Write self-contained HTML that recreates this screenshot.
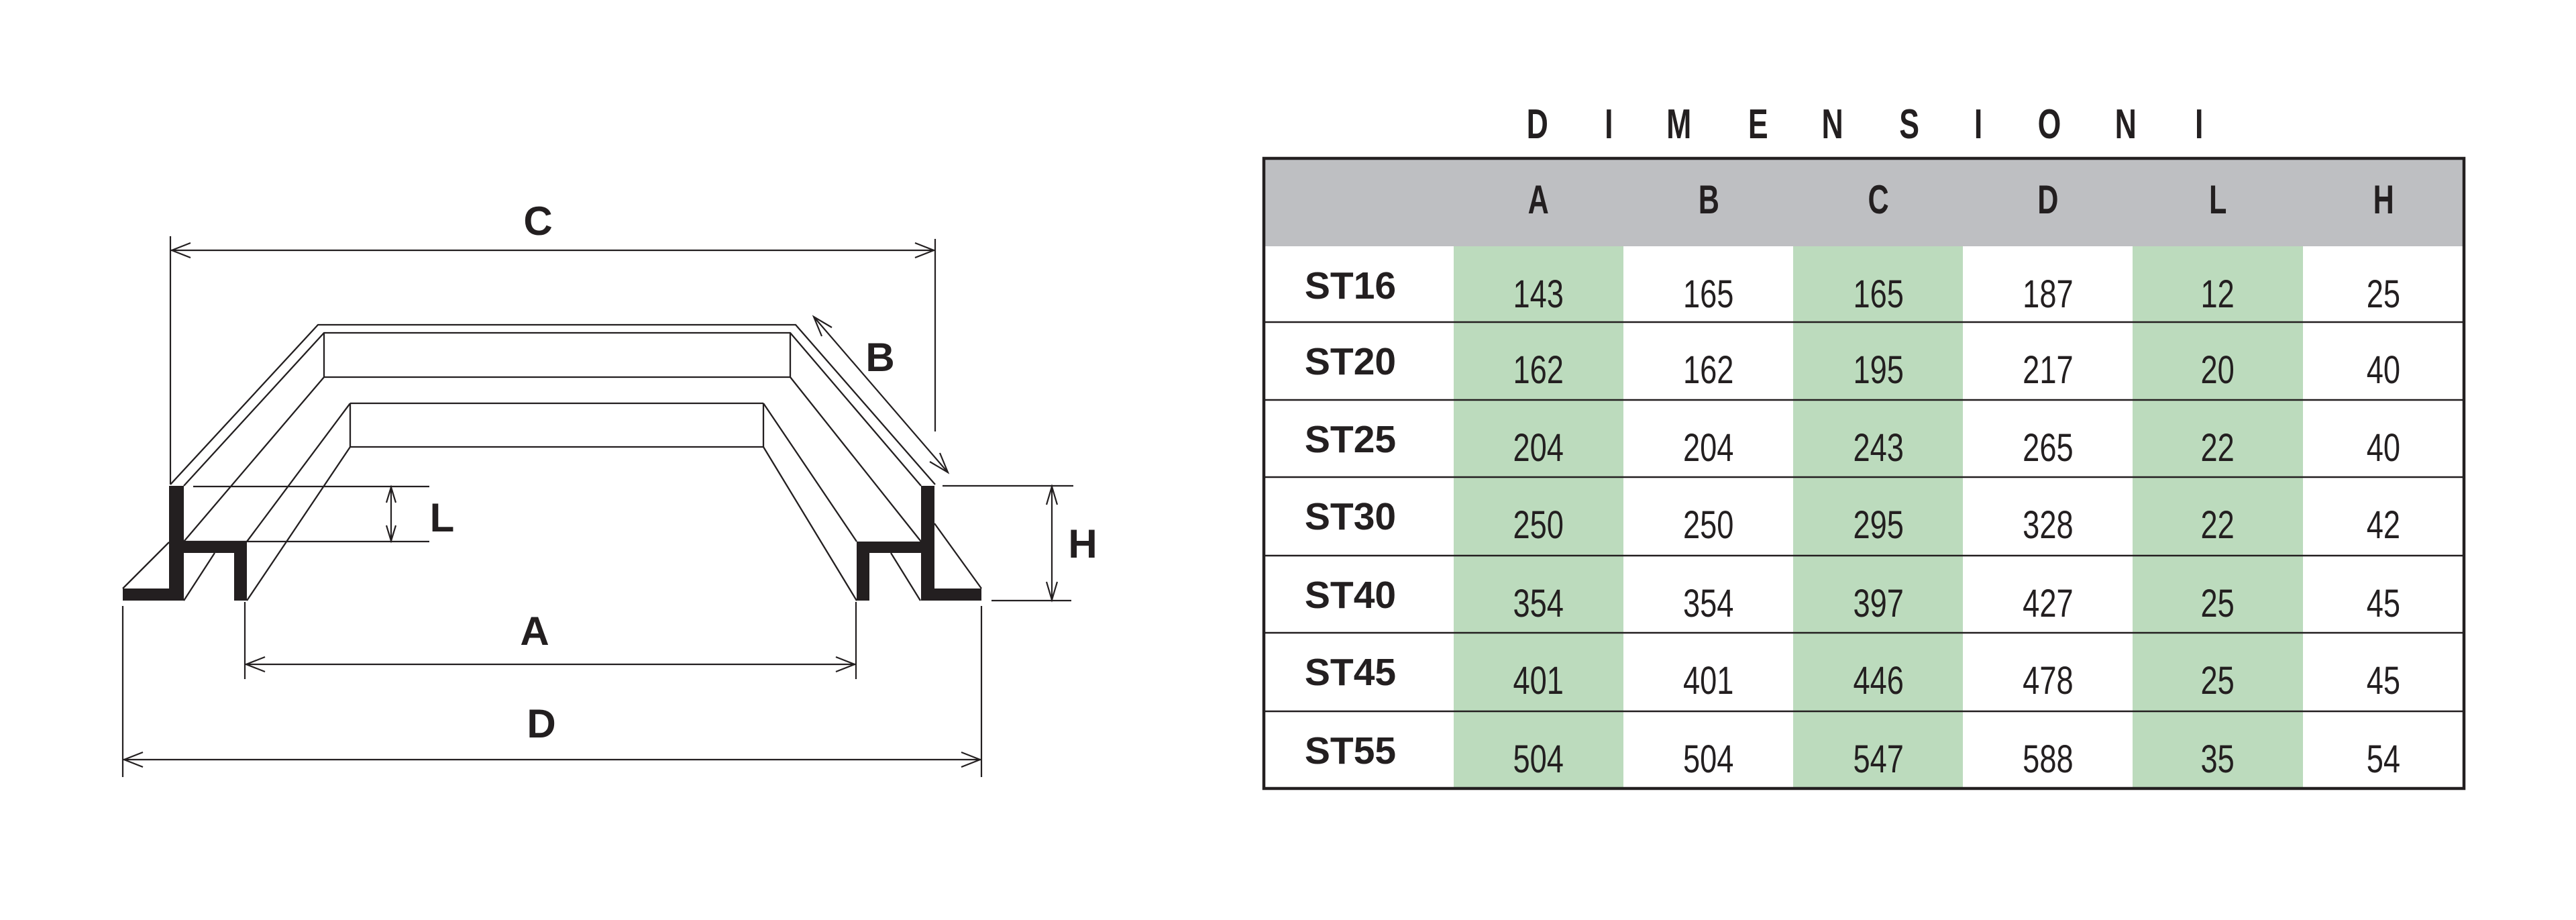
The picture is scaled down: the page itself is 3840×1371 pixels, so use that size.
<!DOCTYPE html>
<html><head><meta charset="utf-8"><style>
html,body{margin:0;padding:0;background:#fff;}
svg{display:block;}
text{font-family:"Liberation Sans",sans-serif;fill:#231f20;}
.b{font-weight:bold;}
</style></head><body>
<svg width="3840" height="1371" viewBox="0 0 3840 1371" xmlns="http://www.w3.org/2000/svg">
<rect width="3840" height="1371" fill="#fff"/>
<!-- DRAWING -->
<g fill="none" stroke="#231f20" stroke-width="2.3" stroke-linejoin="miter">
  <polyline points="254,722 474,484 1186,484 1394,722"/>
  <polyline points="274,724 483,496 1178,496 1373,724"/>
  <line x1="483" y1="496" x2="483" y2="562"/>
  <line x1="1178" y1="496" x2="1178" y2="562"/>
  <line x1="483" y1="562" x2="1178" y2="562"/>
  <line x1="483" y1="562" x2="274" y2="807"/>
  <line x1="1178" y1="562" x2="1373" y2="807"/>
  <line x1="522" y1="601" x2="1138" y2="601"/>
  <line x1="522" y1="666" x2="1138" y2="666"/>
  <line x1="522" y1="601" x2="522" y2="666"/>
  <line x1="1138" y1="601" x2="1138" y2="666"/>
  <line x1="522" y1="601" x2="368" y2="807"/>
  <line x1="522" y1="666" x2="368" y2="895"/>
  <line x1="1138" y1="601" x2="1277" y2="807"/>
  <line x1="1138" y1="666" x2="1277" y2="895"/>
  <line x1="183" y1="877" x2="252" y2="808"/>
  <line x1="274" y1="895" x2="320" y2="824"/>
  <line x1="1393" y1="780" x2="1463" y2="877"/>
  <line x1="1328" y1="824" x2="1372" y2="895"/>
</g>
<g fill="#231f20">
  <polygon points="252,724 274,724 274,807 368,807 368,895 349,895 349,824 274,824 274,895 183,895 183,877 252,877"/>
  <polygon points="1373,724 1393,724 1393,877 1463,877 1463,895 1373,895 1373,824 1296,824 1296,895 1277,895 1277,807 1373,807"/>
</g>
<g fill="none" stroke="#231f20" stroke-width="2.2">
  <line x1="254" y1="352" x2="254" y2="722"/>
  <line x1="1394" y1="356" x2="1394" y2="643"/>
  <line x1="254" y1="373" x2="1394" y2="373"/>
  <polyline points="284,362 256,373 284,384"/>
  <polyline points="1364,362 1392,373 1364,384"/>
  <line x1="1213" y1="472" x2="1413" y2="704"/>
  <polyline points="1225,501 1213,472 1240,488"/>
  <polyline points="1386,688 1413,704 1401,675"/>
  <line x1="288" y1="725" x2="640" y2="725"/>
  <line x1="274" y1="807" x2="640" y2="807"/>
  <line x1="583" y1="725" x2="583" y2="807"/>
  <polyline points="576,749 583,726 590,749"/>
  <polyline points="576,783 583,806 590,783"/>
  <line x1="1405" y1="724" x2="1600" y2="724"/>
  <line x1="1478" y1="895" x2="1597" y2="895"/>
  <line x1="1568" y1="724" x2="1568" y2="895"/>
  <polyline points="1560,752 1568,725 1576,752"/>
  <polyline points="1560,867 1568,894 1576,867"/>
  <line x1="365" y1="897" x2="365" y2="1012"/>
  <line x1="1276" y1="897" x2="1276" y2="1012"/>
  <line x1="365" y1="990" x2="1276" y2="990"/>
  <polyline points="395,979 367,990 395,1001"/>
  <polyline points="1246,979 1274,990 1246,1001"/>
  <line x1="183" y1="903" x2="183" y2="1158"/>
  <line x1="1463" y1="903" x2="1463" y2="1158"/>
  <line x1="183" y1="1132" x2="1463" y2="1132"/>
  <polyline points="213,1121 185,1132 213,1143"/>
  <polyline points="1433,1121 1461,1132 1433,1143"/>
</g>
<g class="b" font-size="60" text-anchor="middle">
  <text x="802" y="350">C</text>
  <text x="1312" y="553">B</text>
  <text x="659" y="792">L</text>
  <text x="1614" y="831">H</text>
  <text x="797" y="961">A</text>
  <text x="807" y="1099">D</text>
</g>
<!-- TABLE -->
<g font-size="62" class="b" text-anchor="middle" transform="scale(0.72,1)">
  <text x="3183" y="206">D</text><text x="3331" y="206">I</text><text x="3476" y="206">M</text><text x="3640" y="206">E</text><text x="3794" y="206">N</text><text x="3953" y="206">S</text><text x="4096" y="206">I</text><text x="4243" y="206">O</text><text x="4401" y="206">N</text><text x="4553" y="206">I</text>
</g>
<rect x="1884" y="236" width="1789" height="131" fill="#bebfc2"/>
<rect x="2167" y="367" width="253" height="808" fill="#bcdbbd"/>
<rect x="2673" y="367" width="253" height="808" fill="#bcdbbd"/>
<rect x="3179" y="367" width="254" height="808" fill="#bcdbbd"/>
<g stroke="#231f20" stroke-width="2.5">
  <line x1="1884" y1="480" x2="3673" y2="480"/>
  <line x1="1884" y1="596" x2="3673" y2="596"/>
  <line x1="1884" y1="711" x2="3673" y2="711"/>
  <line x1="1884" y1="828" x2="3673" y2="828"/>
  <line x1="1884" y1="943" x2="3673" y2="943"/>
  <line x1="1884" y1="1060" x2="3673" y2="1060"/>
</g>
<rect x="1884" y="236" width="1789" height="939" fill="none" stroke="#231f20" stroke-width="4.5"/>
<g class="b" font-size="60" text-anchor="middle" transform="scale(0.72,1)">
  <text x="3185" y="318">A</text><text x="3538" y="318">B</text><text x="3889" y="318">C</text><text x="4240" y="318">D</text><text x="4592" y="318">L</text><text x="4935" y="318">H</text>
</g>
<g font-size="57" text-anchor="middle" font-weight="bold">
  <text x="2013" y="445">ST16</text>
  <text x="2013" y="558">ST20</text>
  <text x="2013" y="674">ST25</text>
  <text x="2013" y="789">ST30</text>
  <text x="2013" y="906">ST40</text>
  <text x="2013" y="1021">ST45</text>
  <text x="2013" y="1138">ST55</text>
</g>
<g font-size="58" text-anchor="middle" transform="scale(0.78,1)">
  <text x="2940" y="458">143</text><text x="3265" y="458">165</text><text x="3590" y="458">165</text><text x="3914" y="458">187</text><text x="4238" y="458">12</text><text x="4555" y="458">25</text>
  <text x="2940" y="571">162</text><text x="3265" y="571">162</text><text x="3590" y="571">195</text><text x="3914" y="571">217</text><text x="4238" y="571">20</text><text x="4555" y="571">40</text>
  <text x="2940" y="687">204</text><text x="3265" y="687">204</text><text x="3590" y="687">243</text><text x="3914" y="687">265</text><text x="4238" y="687">22</text><text x="4555" y="687">40</text>
  <text x="2940" y="802">250</text><text x="3265" y="802">250</text><text x="3590" y="802">295</text><text x="3914" y="802">328</text><text x="4238" y="802">22</text><text x="4555" y="802">42</text>
  <text x="2940" y="919">354</text><text x="3265" y="919">354</text><text x="3590" y="919">397</text><text x="3914" y="919">427</text><text x="4238" y="919">25</text><text x="4555" y="919">45</text>
  <text x="2940" y="1034">401</text><text x="3265" y="1034">401</text><text x="3590" y="1034">446</text><text x="3914" y="1034">478</text><text x="4238" y="1034">25</text><text x="4555" y="1034">45</text>
  <text x="2940" y="1151">504</text><text x="3265" y="1151">504</text><text x="3590" y="1151">547</text><text x="3914" y="1151">588</text><text x="4238" y="1151">35</text><text x="4555" y="1151">54</text>
</g>
</svg>
</body></html>
